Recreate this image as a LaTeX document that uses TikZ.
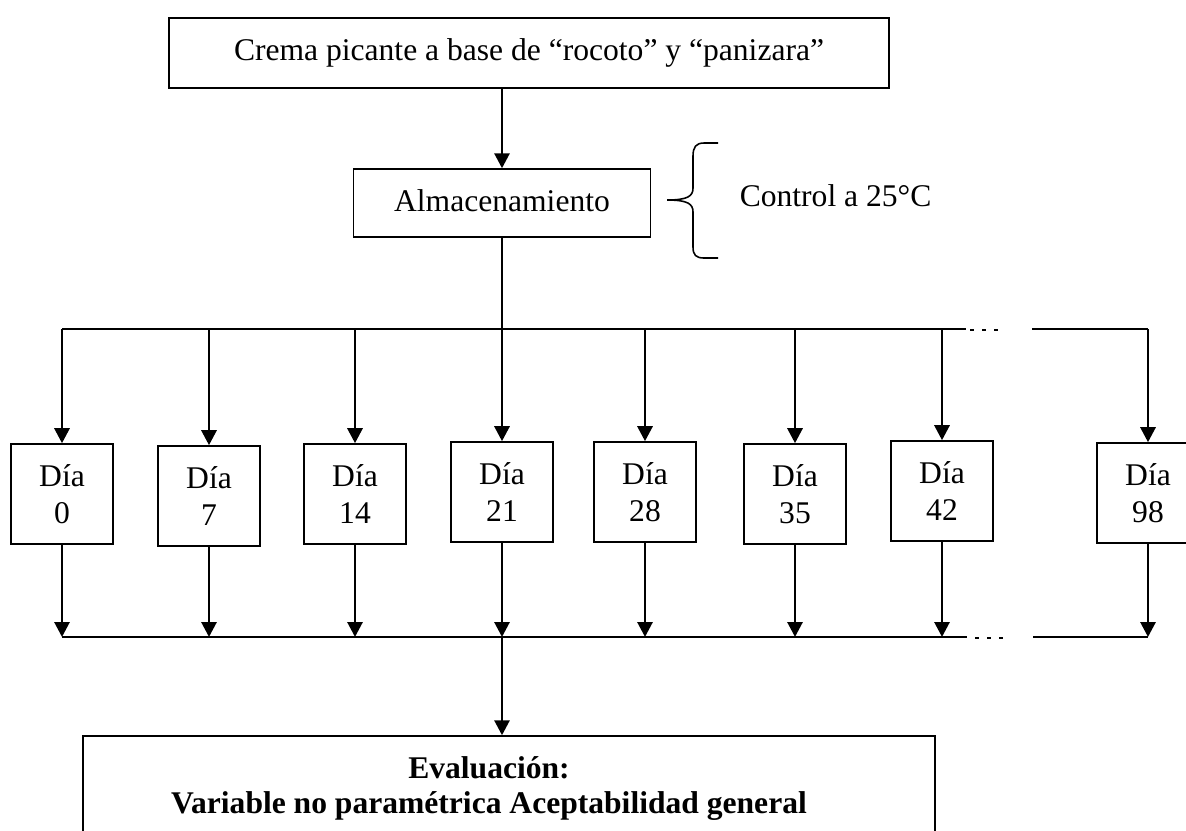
\documentclass[tikz,border=0pt]{standalone}
\usepackage{fontspec}
\setmainfont{Liberation Serif}
\usetikzlibrary
  {
    arrows.meta,  % filled triangle tips
    positioning,  % place nodes relative to other nodes
  }

\begin{document}
\begin{tikzpicture}
    [
      x=0.38pt, y=-0.38pt,
      % Styles
      box/.style={draw, line width=0.6pt, inner sep=0pt, align=center,
                  font=\fontsize{12}{13.8}\selectfont},
      day box/.style={box, minimum width=38.8pt, minimum height=38pt},
      flow/.style={line width=1.1pt, -{Triangle[length=5.7pt, width=5.7pt]}},
      bus/.style={line width=1.1pt},
      more/.style={line width=0.5pt, dash pattern=on 1.5pt off 3.1pt}
    ]
    \useasboundingbox (0,0) rectangle (1186,830);

    % main boxes
    \node [box, minimum width=273.6pt, minimum height=26.6pt] (crema) at (529,53)
      {\raisebox{2pt}{Crema picante a base de ``rocoto'' y ``panizara''}};
    \node [box, minimum width=112.9pt, minimum height=25.8pt] (almac) at (502,203)
      {\raisebox{2pt}{Almacenamiento}};
    \node [box, draw=none, anchor=west] (control) at (739,196) {Control a 25°C};

    % curly brace
    \draw [line width=0.6pt]
      (718,143) -- (704,143) .. controls (696,143) and (693,147) .. (693,156)
      -- (693,188) .. controls (693,196) and (688,200) .. (667,200)
      .. controls (688,200) and (693,204) .. (693,212)
      -- (693,247) .. controls (693,255) and (696,258) .. (704,258) -- (718,258);

    \draw [flow] (crema.south -| almac) -- (almac.north);

    % distribution lines
    \coordinate (bus top) at (502,329);
    \coordinate (bus bottom) at (502,637);
    \draw [bus] (almac.south) -- (bus top);
    \draw [bus] (62,329) -- (966,329);
    \draw [more] (970,330) -- (999,330);
    \draw [bus] (1032,329) -- (1148,329);
    \draw [bus] (62,637) -- (967,637);
    \draw [more] (975,638) -- (1003,638);
    \draw [bus] (1033,637) -- (1148,637);

    % sampling days
    \foreach \x/\y/\d in {62/494/0, 209/496/7, 355/494/14, 502/492/21,
                          645/492/28, 795/494/35, 942/491/42, 1148/493/98}
    {
      \node [day box] (day\d) at (\x,\y) {Día\\\d};
      \draw [flow] (day\d.north |- bus top) -- (day\d.north);
      \draw [flow] (day\d.south) -- (day\d.south |- bus bottom);
    }

    % evaluation (box runs off the page)
    \node [box, minimum width=323.8pt, minimum height=41pt] (eval) at (509,790) {};
    \node [font=\fontsize{12}{13.3}\selectfont\bfseries, align=center, inner sep=0pt]
      (eval text) at (489,788)
      {Evaluación:\\Variable no paramétrica Aceptabilidad general};
    \draw [flow] (bus bottom) -- (bus bottom |- eval.north);
\end{tikzpicture}
\end{document}
